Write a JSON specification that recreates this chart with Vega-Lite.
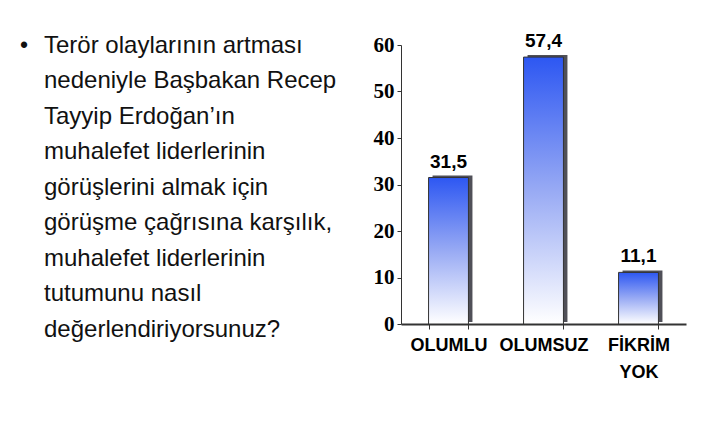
{
  "$schema": "https://vega.github.io/schema/vega-lite/v6.json",
  "description": "Muhalefet liderlerinin tutumu anketi: metin ve sütun grafik.",
  "background": "white",
  "padding": {"left": 20, "top": 32, "right": 5, "bottom": 5},
  "spacing": 18,
  "hconcat": [
    {
      "width": 335,
      "height": 279,
      "data": {
        "values": [
          {"satir": 1, "metin": "Terör olaylarının artması"},
          {"satir": 2, "metin": "nedeniyle Başbakan Recep"},
          {"satir": 3, "metin": "Tayyip Erdoğan’ın"},
          {"satir": 4, "metin": "muhalefet liderlerinin"},
          {"satir": 5, "metin": "görüşlerini almak için"},
          {"satir": 6, "metin": "görüşme çağrısına karşılık,"},
          {"satir": 7, "metin": "muhalefet liderlerinin"},
          {"satir": 8, "metin": "tutumunu nasıl"},
          {"satir": 9, "metin": "değerlendiriyorsunuz?"}
        ]
      },
      "encoding": {
        "y": {
          "field": "satir",
          "type": "quantitative",
          "scale": {"domain": [0.972, 8.831], "reverse": true, "nice": false, "zero": false},
          "axis": null
        }
      },
      "layer": [
        {
          "mark": {"type": "text", "align": "left", "baseline": "middle", "font": "Liberation Sans", "fontSize": 24, "color": "#111111"},
          "encoding": {
            "x": {"value": 24},
            "text": {"field": "metin"}
          }
        },
        {
          "transform": [{"filter": "datum.satir == 1"}],
          "mark": {"type": "text", "text": "•", "align": "left", "baseline": "middle", "font": "Liberation Sans", "fontSize": 23, "color": "#111111"},
          "encoding": {
            "x": {"value": 0}
          }
        }
      ]
    },
    {
      "width": 285,
      "height": 279,
      "data": {
        "values": [
          {"cevap": "OLUMLU", "yuzde": 31.5},
          {"cevap": "OLUMSUZ", "yuzde": 57.4},
          {"cevap": "FİKRİM YOK", "yuzde": 11.1}
        ]
      },
      "encoding": {
        "x": {
          "field": "cevap",
          "type": "nominal",
          "sort": null,
          "scale": {"paddingInner": 0.58, "paddingOuter": 0.29},
          "axis": {
            "title": null,
            "labelAngle": 0,
            "tickBand": "extent",
            "tickSize": 5,
            "tickColor": "#333333",
            "domainColor": "#333333",
            "domainWidth": 2,
            "labelFont": "Liberation Sans",
            "labelFontWeight": "bold",
            "labelFontSize": 18,
            "labelColor": "black",
            "labelPadding": 7,
            "labelLineHeight": 27,
            "labelExpr": "datum.label == 'FİKRİM YOK' ? ['FİKRİM', 'YOK'] : datum.label"
          }
        },
        "y": {
          "field": "yuzde",
          "type": "quantitative",
          "scale": {"domain": [0, 60], "nice": false},
          "axis": {
            "title": null,
            "values": [0, 10, 20, 30, 40, 50, 60],
            "grid": false,
            "tickSize": 4,
            "tickColor": "#333333",
            "domainColor": "#333333",
            "labelFont": "Liberation Serif",
            "labelFontWeight": "bold",
            "labelFontSize": 21,
            "labelColor": "black",
            "labelPadding": 3
          }
        }
      },
      "layer": [
        {
          "mark": {"type": "bar", "color": "#505058", "xOffset": 4, "yOffset": -2}
        },
        {
          "mark": {
            "type": "bar",
            "stroke": "#333333",
            "strokeWidth": 1,
            "color": {
              "gradient": "linear",
              "x1": 0, "y1": 0, "x2": 0, "y2": 1,
              "stops": [
                {"offset": 0, "color": "#2d57f2"},
                {"offset": 0.5, "color": "#98aaf4"},
                {"offset": 1, "color": "#ffffff"}
              ]
            }
          }
        },
        {
          "mark": {"type": "text", "baseline": "bottom", "dy": -6, "font": "Liberation Sans", "fontWeight": "bold", "fontSize": 19, "color": "black"},
          "encoding": {
            "text": {"field": "yuzde", "type": "quantitative", "format": ".1f"}
          }
        }
      ]
    }
  ],
  "config": {
    "view": {"stroke": null},
    "locale": {
      "number": {"decimal": ",", "thousands": ".", "grouping": [3], "currency": ["", " TL"]}
    }
  }
}
